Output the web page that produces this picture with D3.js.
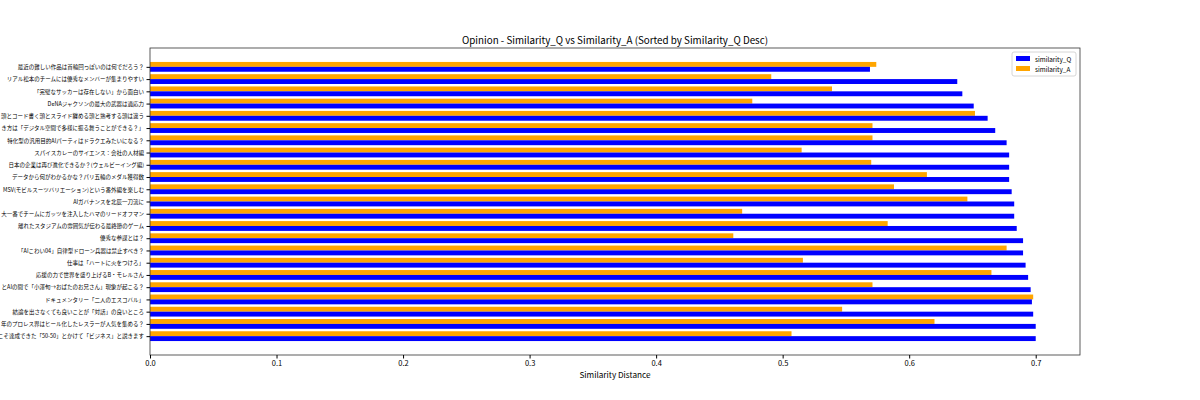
<!DOCTYPE html>
<html>
<head>
<meta charset="utf-8">
<script src="https://cdn.jsdelivr.net/npm/d3@7"></script>
<style>
  body { margin: 0; background: #fff; }
  text { font-family: "Noto Sans CJK JP", "Noto Sans", sans-serif; fill: #000; }
</style>
</head>
<body>
<svg id="chart" width="1200" height="400"></svg>
<script>
// rows listed top to bottom as they appear
var labels = [
  "最近の難しい作品は首輪回っぽいのは何でだろう？",
  "リアル松本のチームには優秀なメンバーが集まりやすい",
  "「完璧なサッカーは存在しない」から面白い",
  "DeNAジャクソンの最大の武器は適応力",
  "頭とコード書く頭とスライド纏める頭と熟考する頭は違う",
  "き方は「デジタル空間で多様に振る舞うことができる？」",
  "特化型の汎用目的AIパーティはドラクエみたいになる？",
  "スパイスカレーのサイエンス：会社の人材編",
  "日本の企業は再び進化できるか？(ウェルビーイング編)",
  "データから何がわかるかな？パリ五輪のメダル獲得数",
  "MSV(モビルスーツバリエーション)という番外編を楽しむ",
  "AIガバナンスを北辰一刀流に",
  "大一番でチームにガッツを注入したハマのリードオフマン",
  "離れたスタジアムの雰囲気が伝わる最終節のゲーム",
  "優秀な参謀とは？",
  "「AIこわい04」自律型ドローン兵器は禁止すべき？",
  "仕事は「ハートに火をつけろ」",
  "応援の力で世界を盛り上げるB・モレルさん",
  "とAIの間で「小澤旬→おばたのお兄さん」現象が起こる？",
  "ドキュメンタリー「二人のエスコバル」",
  "結論を出さなくても良いことが「対話」の良いところ",
  "年のプロレス界はヒール化したレスラーが人気を集める？",
  "こそ達成できた「50-50」とかけて「ビジネス」と説きます"
];
var simQ = [0.569, 0.638, 0.642, 0.651, 0.662, 0.668, 0.677, 0.679, 0.679, 0.679, 0.681, 0.683,
            0.683, 0.685, 0.690, 0.690, 0.692, 0.694, 0.696, 0.697, 0.698, 0.700, 0.700];
var simA = [0.574, 0.491, 0.539, 0.476, 0.652, 0.571, 0.571, 0.515, 0.570, 0.614, 0.588, 0.646,
            0.468, 0.583, 0.461, 0.677, 0.516, 0.665, 0.571, 0.698, 0.547, 0.620, 0.507];
var xTicks = [0, 0.1, 0.2, 0.3, 0.4, 0.5, 0.6, 0.7];

var svg = d3.select("#chart");
var pL = 150, pR = 1080, pT = 48, pB = 355;
var n = labels.length;

var x = d3.scaleLinear().domain([0, 0.735]).range([pL, pR]);
var pad = 0.05 * (n - 1 + 0.8);
var y = d3.scaleLinear().domain([-0.4 - pad, n - 1 + 0.4 + pad]).range([pT, pB]);
var bh = y(0.4) - y(0);

var g = svg.append("g");

// A bars sit just above each tick, Q bars just below
g.selectAll("rect.a").data(simA).enter().append("rect")
    .attr("class", "a")
    .attr("x", x(0))
    .attr("y", function (d, i) { return y(i - 0.4); })
    .attr("width", function (d) { return x(d) - x(0); })
    .attr("height", bh)
    .attr("fill", "orange");

g.selectAll("rect.q").data(simQ).enter().append("rect")
    .attr("class", "q")
    .attr("x", x(0))
    .attr("y", function (d, i) { return y(i); })
    .attr("width", function (d) { return x(d) - x(0); })
    .attr("height", bh)
    .attr("fill", "blue");

// frame
svg.append("rect").attr("x", pL).attr("y", pT)
    .attr("width", pR - pL).attr("height", pB - pT)
    .attr("fill", "none").attr("stroke", "#333").attr("stroke-width", 0.8);

var xAxis = svg.append("g").attr("transform", "translate(0," + pB + ")")
    .call(d3.axisBottom(x).tickValues(xTicks).tickFormat(d3.format(".1f")).tickSize(3.5).tickPadding(2.5));
xAxis.select(".domain").remove();
xAxis.selectAll("text").style("font-size", "7.5px");

var yAxis = svg.append("g").attr("transform", "translate(" + pL + ",0)")
    .call(d3.axisLeft(y).tickValues(d3.range(n)).tickFormat(function (i) { return labels[i]; })
        .tickSize(3.5).tickPadding(2.5));
yAxis.select(".domain").remove();
yAxis.selectAll("text").style("font-size", "5.5px");

svg.append("text").attr("x", (pL + pR) / 2).attr("y", 44)
    .attr("text-anchor", "middle").style("font-size", "9.8px")
    .text("Opinion - Similarity_Q vs Similarity_A (Sorted by Similarity_Q Desc)");

svg.append("text").attr("x", (pL + pR) / 2).attr("y", 378)
    .attr("text-anchor", "middle").style("font-size", "8.2px")
    .text("Similarity Distance");

// legend
var lg = svg.append("g").attr("transform", "translate(1012,52)");
lg.append("rect").attr("width", 64).attr("height", 24).attr("rx", 2)
    .attr("fill", "#fff").attr("stroke", "#ccc").attr("stroke-width", 0.8);
var items = [["similarity_Q", "blue"], ["similarity_A", "orange"]];
items.forEach(function (it, k) {
    lg.append("rect").attr("x", 4).attr("y", 4 + k * 10).attr("width", 14).attr("height", 5).attr("fill", it[1]);
    lg.append("text").attr("x", 23).attr("y", 9.5 + k * 10).style("font-size", "6.4px").text(it[0]);
});
</script>
</body>
</html>
